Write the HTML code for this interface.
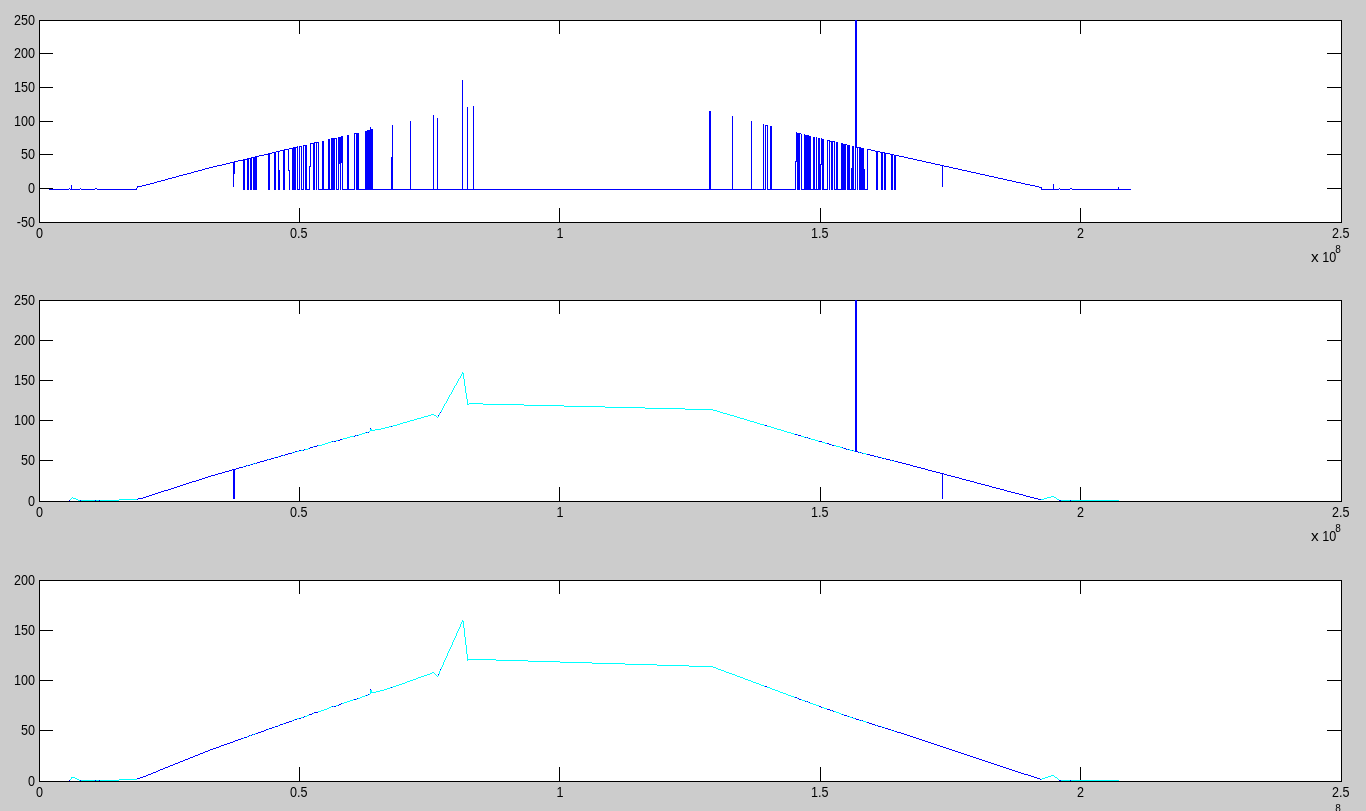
<!DOCTYPE html>
<html><head><meta charset="utf-8"><title>Figure 1</title>
<style>
html,body{margin:0;padding:0;background:#ccc;overflow:hidden}
svg{display:block}
text{font-family:"Liberation Sans",Arial,Helvetica,sans-serif;font-size:14px;fill:#000}
</style></head><body>
<svg width="1366" height="811" viewBox="0 0 1366 811">
<rect width="1366" height="811" fill="#ccc"/>
<rect x="39" y="20" width="1303" height="203" fill="#fff"/>
<rect x="39" y="300" width="1303" height="202" fill="#fff"/>
<rect x="39" y="580" width="1303" height="202" fill="#fff"/>
<path shape-rendering="crispEdges" fill="#000" d="M39 20h1303v1h-1303zM39 222h1303v1h-1303zM39 20h1v203h-1zM1341 20h1v203h-1zM40 53h13v1h-13zM1327 53h14v1h-14zM40 87h13v1h-13zM1327 87h14v1h-14zM40 121h13v1h-13zM1327 121h14v1h-14zM40 154h13v1h-13zM1327 154h14v1h-14zM40 188h13v1h-13zM1327 188h14v1h-14zM299 208h1v14h-1zM299 21h1v13h-1zM559 208h1v14h-1zM559 21h1v13h-1zM820 208h1v14h-1zM820 21h1v13h-1zM1080 208h1v14h-1zM1080 21h1v13h-1zM39 300h1303v1h-1303zM39 501h1303v1h-1303zM39 300h1v202h-1zM1341 300h1v202h-1zM40 340h13v1h-13zM1327 340h14v1h-14zM40 380h13v1h-13zM1327 380h14v1h-14zM40 420h13v1h-13zM1327 420h14v1h-14zM40 460h13v1h-13zM1327 460h14v1h-14zM299 487h1v14h-1zM299 301h1v13h-1zM559 487h1v14h-1zM559 301h1v13h-1zM820 487h1v14h-1zM820 301h1v13h-1zM1080 487h1v14h-1zM1080 301h1v13h-1zM39 580h1303v1h-1303zM39 781h1303v1h-1303zM39 580h1v202h-1zM1341 580h1v202h-1zM40 630h13v1h-13zM1327 630h14v1h-14zM40 680h13v1h-13zM1327 680h14v1h-14zM40 730h13v1h-13zM1327 730h14v1h-14zM299 767h1v14h-1zM299 581h1v13h-1zM559 767h1v14h-1zM559 581h1v13h-1zM820 767h1v14h-1zM820 581h1v13h-1zM1080 767h1v14h-1zM1080 581h1v13h-1z"/>
<path shape-rendering="crispEdges" fill="#00f" d="M49 189h20v1h-20zM70 189h1v1h-1zM72 189h8v1h-8zM81 189h14v1h-14zM97 189h39v1h-39zM298 189h1v1h-1zM302 189h1v1h-1zM307 189h2v1h-2zM319 189h3v1h-3zM324 189h4v1h-4zM330 189h1v1h-1zM337 189h1v1h-1zM343 189h4v1h-4zM349 189h5v1h-5zM359 189h6v1h-6zM373 189h18v1h-18zM393 189h17v1h-17zM411 189h22v1h-22zM434 189h3v1h-3zM438 189h24v1h-24zM463 189h4v1h-4zM468 189h5v1h-5zM474 189h235v1h-235zM711 189h21v1h-21zM733 189h18v1h-18zM752 189h11v1h-11zM764 189h1v1h-1zM768 189h2v1h-2zM772 189h23v1h-23zM802 189h2v1h-2zM811 189h2v1h-2zM815 189h1v1h-1zM817 189h1v1h-1zM824 189h3v1h-3zM835 189h1v1h-1zM838 189h3v1h-3zM850 189h1v1h-1zM854 189h1v1h-1zM865 189h2v1h-2zM1042 189h11v1h-11zM1054 189h5v1h-5zM1060 189h10v1h-10zM1072 189h46v1h-46zM1119 189h12v1h-12zM69 188h1v1h-1zM80 188h1v1h-1zM95 188h2v1h-2zM1059 188h1v1h-1zM1070 188h2v1h-2zM71 185h1v5h-1zM136 188h1v2h-1zM137 186h1v2h-1zM138 186h4v1h-4zM1035 186h4v1h-4zM142 185h4v1h-4zM1030 185h5v1h-5zM146 184h4v1h-4zM1025 184h5v1h-5zM150 183h4v1h-4zM1021 183h4v1h-4zM154 182h3v1h-3zM1016 182h5v1h-5zM157 181h4v1h-4zM1012 181h4v1h-4zM161 180h4v1h-4zM1007 180h5v1h-5zM165 179h3v1h-3zM1003 179h4v1h-4zM168 178h4v1h-4zM998 178h5v1h-5zM172 177h4v1h-4zM994 177h4v1h-4zM176 176h3v1h-3zM989 176h5v1h-5zM179 175h4v1h-4zM985 175h4v1h-4zM183 174h4v1h-4zM980 174h5v1h-5zM187 173h4v1h-4zM976 173h4v1h-4zM191 172h3v1h-3zM971 172h5v1h-5zM194 171h4v1h-4zM967 171h4v1h-4zM198 170h4v1h-4zM962 170h5v1h-5zM202 169h3v1h-3zM958 169h4v1h-4zM205 168h4v1h-4zM953 168h5v1h-5zM209 167h4v1h-4zM949 167h4v1h-4zM213 166h4v1h-4zM944 166h5v1h-5zM217 165h5v1h-5zM940 165h2v1h-2zM943 165h1v1h-1zM222 164h4v1h-4zM935 164h5v1h-5zM226 163h4v1h-4zM931 163h4v1h-4zM230 162h3v1h-3zM926 162h5v1h-5zM233 162h1v25h-1zM234 161h1v13h-1zM235 161h3v1h-3zM922 161h4v1h-4zM238 160h5v1h-5zM917 160h5v1h-5zM243 159h2v31h-2zM245 159h2v1h-2zM913 159h4v1h-4zM247 158h2v32h-2zM250 158h1v32h-1zM249 158h1v1h-1zM908 158h5v1h-5zM251 157h1v33h-1zM253 157h2v33h-2zM391 157h1v33h-1zM252 157h1v1h-1zM904 157h4v1h-4zM255 156h2v34h-2zM257 156h2v1h-2zM899 156h5v1h-5zM259 155h5v1h-5zM896 155h3v1h-3zM264 154h4v1h-4zM890 154h1v1h-1zM893 154h1v1h-1zM268 153h2v37h-2zM885 153h1v37h-1zM270 153h2v1h-2zM886 153h4v1h-4zM272 152h2v1h-2zM880 152h1v1h-1zM883 152h1v1h-1zM274 152h2v38h-2zM881 152h2v38h-2zM884 152h1v38h-1zM276 151h2v1h-2zM279 151h1v1h-1zM875 151h1v1h-1zM878 151h2v1h-2zM278 151h1v39h-1zM876 151h2v39h-2zM279 170h1v20h-1zM289 170h1v20h-1zM280 150h3v1h-3zM871 150h4v1h-4zM283 150h1v40h-1zM284 149h1v41h-1zM867 149h1v41h-1zM285 149h3v1h-3zM868 149h3v1h-3zM288 149h1v22h-1zM289 148h3v1h-3zM292 148h1v42h-1zM861 148h3v42h-3zM293 147h3v43h-3zM857 147h1v43h-1zM859 147h2v43h-2zM296 147h1v1h-1zM858 147h1v1h-1zM297 146h1v44h-1zM299 146h1v44h-1zM301 146h1v44h-1zM852 146h2v44h-2zM300 146h1v1h-1zM303 145h1v45h-1zM305 145h2v45h-2zM847 145h3v45h-3zM304 145h1v1h-1zM309 166h1v24h-1zM310 143h1v24h-1zM311 143h2v1h-2zM313 143h1v47h-1zM841 143h2v47h-2zM314 142h1v48h-1zM316 142h1v48h-1zM318 142h1v48h-1zM836 142h2v48h-2zM315 142h1v1h-1zM317 142h1v1h-1zM322 141h2v49h-2zM831 141h2v49h-2zM834 141h1v49h-1zM328 139h2v51h-2zM822 139h2v51h-2zM331 138h4v52h-4zM336 138h1v52h-1zM818 138h2v52h-2zM335 138h1v1h-1zM338 137h1v53h-1zM340 137h1v53h-1zM813 137h2v53h-2zM816 137h1v53h-1zM339 137h1v27h-1zM341 136h1v27h-1zM342 136h1v54h-1zM809 136h2v54h-2zM347 135h2v55h-2zM805 135h4v55h-4zM354 133h1v57h-1zM356 133h3v57h-3zM797 133h3v57h-3zM355 133h1v1h-1zM800 133h1v1h-1zM365 131h2v59h-2zM367 130h3v60h-3zM370 127h1v63h-1zM371 129h2v61h-2zM392 125h1v65h-1zM765 125h1v65h-1zM767 125h1v65h-1zM410 121h1v69h-1zM751 121h1v69h-1zM433 115h1v75h-1zM437 118h1v72h-1zM462 80h1v110h-1zM467 107h1v83h-1zM473 106h1v84h-1zM709 111h2v79h-2zM732 116h1v74h-1zM763 124h1v66h-1zM766 125h1v1h-1zM770 126h2v64h-2zM795 161h1v29h-1zM796 132h1v30h-1zM801 134h1v56h-1zM804 134h1v56h-1zM820 164h1v26h-1zM821 138h1v27h-1zM827 140h1v50h-1zM829 140h1v50h-1zM828 140h1v1h-1zM830 141h1v1h-1zM833 141h1v1h-1zM843 144h3v46h-3zM846 144h1v1h-1zM851 168h1v22h-1zM855 20h1v170h-1zM856 20h1v128h-1zM864 169h1v21h-1zM891 154h2v36h-2zM894 155h2v35h-2zM942 165h1v22h-1zM1039 187h2v1h-2zM1041 187h1v3h-1zM1118 187h1v3h-1zM1053 184h1v6h-1z"/>
<path shape-rendering="crispEdges" fill="#0ff" d="M70 499h1v1h-1zM76 499h2v1h-2zM119 499h18v1h-18zM1041 499h3v1h-3zM1057 499h2v1h-2zM71 498h1v1h-1zM73 498h3v1h-3zM1044 498h3v1h-3zM1056 498h1v1h-1zM72 497h1v1h-1zM1047 497h4v1h-4zM1054 497h2v1h-2zM78 500h2v1h-2zM81 500h14v1h-14zM96 500h3v1h-3zM100 500h19v1h-19zM1061 500h9v1h-9zM1071 500h48v1h-48zM243 466h1v1h-1zM247 465h1v1h-1zM250 464h1v1h-1zM253 463h1v1h-1zM255 463h1v1h-1zM268 459h1v1h-1zM274 457h1v1h-1zM881 457h1v1h-1zM278 456h1v1h-1zM876 456h1v1h-1zM283 455h1v1h-1zM292 452h1v1h-1zM294 452h1v1h-1zM859 452h1v1h-1zM861 452h1v1h-1zM297 451h2v1h-2zM854 451h1v1h-1zM301 450h2v1h-2zM850 450h2v1h-2zM853 450h1v1h-1zM305 449h3v1h-3zM847 449h1v1h-1zM849 449h1v1h-1zM308 448h1v1h-1zM843 448h1v1h-1zM313 446h1v1h-1zM836 446h4v1h-4zM318 445h4v1h-4zM834 445h2v1h-2zM322 444h3v1h-3zM831 444h1v1h-1zM325 443h3v1h-3zM825 443h2v1h-2zM328 442h3v1h-3zM822 442h3v1h-3zM331 441h1v1h-1zM333 441h1v1h-1zM818 441h1v1h-1zM336 440h2v1h-2zM815 440h3v1h-3zM342 439h1v1h-1zM811 439h4v1h-4zM343 438h4v1h-4zM808 438h1v1h-1zM810 438h1v1h-1zM347 437h3v1h-3zM804 437h1v1h-1zM806 437h1v1h-1zM350 436h4v1h-4zM801 436h3v1h-3zM356 435h1v1h-1zM358 435h1v1h-1zM359 434h3v1h-3zM794 434h1v1h-1zM797 434h1v1h-1zM362 433h3v1h-3zM791 433h3v1h-3zM365 432h1v1h-1zM367 432h1v1h-1zM787 432h4v1h-4zM369 431h1v1h-1zM784 431h3v1h-3zM370 429h2v2h-2zM372 430h3v1h-3zM781 430h3v1h-3zM375 429h6v1h-6zM777 429h4v1h-4zM381 428h4v1h-4zM774 428h3v1h-3zM385 427h4v1h-4zM771 427h3v1h-3zM389 426h2v1h-2zM392 426h1v1h-1zM767 426h4v1h-4zM393 425h4v1h-4zM764 425h1v1h-1zM397 424h3v1h-3zM760 424h4v1h-4zM400 423h3v1h-3zM757 423h3v1h-3zM403 422h4v1h-4zM754 422h3v1h-3zM407 421h3v1h-3zM750 421h4v1h-4zM410 420h4v1h-4zM747 420h3v1h-3zM414 419h3v1h-3zM744 419h3v1h-3zM417 418h4v1h-4zM740 418h4v1h-4zM421 417h3v1h-3zM437 417h1v1h-1zM737 417h3v1h-3zM424 416h4v1h-4zM436 416h1v1h-1zM438 416h1v1h-1zM734 416h3v1h-3zM428 415h3v1h-3zM434 415h2v1h-2zM730 415h4v1h-4zM431 414h3v1h-3zM727 414h3v1h-3zM439 413h1v2h-1zM441 410h1v2h-1zM442 408h1v2h-1zM443 406h1v2h-1zM444 404h1v2h-1zM445 403h1v1h-1zM469 403h14v1h-14zM446 401h1v2h-1zM447 399h1v2h-1zM448 397h1v2h-1zM449 395h1v2h-1zM450 394h1v1h-1zM451 392h1v2h-1zM452 390h1v2h-1zM453 388h1v2h-1zM454 386h1v2h-1zM455 385h1v1h-1zM456 383h1v2h-1zM457 381h1v2h-1zM458 379h1v2h-1zM459 378h1v1h-1zM460 376h1v2h-1zM461 374h1v2h-1zM462 372h1v2h-1zM463 373h1v6h-1zM464 379h1v7h-1zM465 386h1v7h-1zM466 393h1v6h-1zM467 399h1v6h-1zM468 404h1v1h-1zM483 404h41v1h-41zM524 405h40v1h-40zM564 406h41v1h-41zM605 407h40v1h-40zM645 408h40v1h-40zM685 409h28v1h-28zM713 410h4v1h-4zM717 411h3v1h-3zM720 412h3v1h-3zM723 413h4v1h-4zM840 447h2v1h-2zM863 453h3v1h-3zM866 454h1v1h-1zM884 458h1v1h-1zM891 460h1v1h-1zM894 461h1v1h-1zM1051 496h3v1h-3z"/>
<path shape-rendering="crispEdges" fill="#00f" d="M69 500h1v1h-1zM80 500h1v1h-1zM95 500h1v1h-1zM99 500h1v1h-1zM1059 500h2v1h-2zM1070 500h1v1h-1zM137 499h1v1h-1zM1038 499h3v1h-3zM138 498h5v1h-5zM1034 498h4v1h-4zM143 497h3v1h-3zM1030 497h4v1h-4zM146 496h3v1h-3zM1026 496h4v1h-4zM149 495h3v1h-3zM1023 495h3v1h-3zM152 494h3v1h-3zM1019 494h4v1h-4zM155 493h3v1h-3zM1015 493h4v1h-4zM158 492h3v1h-3zM1011 492h4v1h-4zM161 491h3v1h-3zM1007 491h4v1h-4zM164 490h4v1h-4zM1004 490h3v1h-3zM168 489h3v1h-3zM1000 489h4v1h-4zM171 488h3v1h-3zM996 488h4v1h-4zM174 487h3v1h-3zM992 487h4v1h-4zM177 486h3v1h-3zM989 486h3v1h-3zM180 485h3v1h-3zM985 485h4v1h-4zM183 484h3v1h-3zM981 484h4v1h-4zM186 483h3v1h-3zM977 483h4v1h-4zM189 482h3v1h-3zM974 482h3v1h-3zM192 481h4v1h-4zM970 481h4v1h-4zM196 480h3v1h-3zM966 480h4v1h-4zM199 479h3v1h-3zM962 479h4v1h-4zM202 478h3v1h-3zM959 478h3v1h-3zM205 477h3v1h-3zM955 477h4v1h-4zM208 476h3v1h-3zM951 476h4v1h-4zM211 475h4v1h-4zM947 475h4v1h-4zM215 474h3v1h-3zM944 474h3v1h-3zM218 473h4v1h-4zM940 473h2v1h-2zM943 473h1v1h-1zM222 472h3v1h-3zM936 472h4v1h-4zM225 471h4v1h-4zM932 471h4v1h-4zM229 470h3v1h-3zM928 470h4v1h-4zM232 469h1v1h-1zM235 469h1v1h-1zM925 469h3v1h-3zM233 469h2v30h-2zM236 468h3v1h-3zM921 468h4v1h-4zM239 467h4v1h-4zM917 467h4v1h-4zM244 466h2v1h-2zM913 466h4v1h-4zM246 465h1v1h-1zM248 465h2v1h-2zM910 465h3v1h-3zM251 464h2v1h-2zM906 464h4v1h-4zM254 463h1v1h-1zM256 463h1v1h-1zM902 463h4v1h-4zM257 462h3v1h-3zM898 462h4v1h-4zM260 461h4v1h-4zM895 461h3v1h-3zM264 460h3v1h-3zM890 460h1v1h-1zM892 460h2v1h-2zM267 459h1v1h-1zM269 459h2v1h-2zM886 459h4v1h-4zM271 458h3v1h-3zM882 458h2v1h-2zM885 458h1v1h-1zM275 457h3v1h-3zM878 457h3v1h-3zM279 456h2v1h-2zM874 456h2v1h-2zM877 456h1v1h-1zM281 455h2v1h-2zM284 455h1v1h-1zM870 455h4v1h-4zM285 454h3v1h-3zM867 454h3v1h-3zM288 453h4v1h-4zM862 453h1v1h-1zM293 452h1v1h-1zM858 452h1v1h-1zM860 452h1v1h-1zM295 451h2v1h-2zM857 451h1v1h-1zM299 450h2v1h-2zM303 450h1v1h-1zM852 450h1v1h-1zM304 449h1v1h-1zM846 449h1v1h-1zM848 449h1v1h-1zM309 448h1v1h-1zM844 448h2v1h-2zM310 447h3v1h-3zM842 447h1v1h-1zM314 446h3v1h-3zM317 445h1v1h-1zM832 445h2v1h-2zM332 441h1v1h-1zM334 441h2v1h-2zM819 441h3v1h-3zM338 440h2v1h-2zM340 439h2v1h-2zM354 436h1v1h-1zM355 435h1v1h-1zM357 435h1v1h-1zM798 435h3v1h-3zM366 432h1v1h-1zM368 432h1v1h-1zM370 428h1v1h-1zM391 426h1v1h-1zM438 415h1v1h-1zM440 412h1v1h-1zM765 425h2v1h-2zM795 434h2v1h-2zM805 437h1v1h-1zM807 437h1v1h-1zM809 438h1v1h-1zM827 443h2v1h-2zM829 444h2v1h-2zM855 300h2v152h-2zM942 473h1v26h-1z"/>
<path shape-rendering="crispEdges" fill="#0ff" d="M70 779h1v1h-1zM77 779h2v1h-2zM119 779h18v1h-18zM1041 779h1v1h-1zM1058 779h1v1h-1zM71 777h1v2h-1zM72 777h3v1h-3zM1045 777h3v1h-3zM1055 777h2v1h-2zM75 778h2v1h-2zM1042 778h3v1h-3zM1057 778h1v1h-1zM79 780h1v1h-1zM81 780h14v1h-14zM96 780h3v1h-3zM100 780h19v1h-19zM1061 780h9v1h-9zM1071 780h48v1h-48zM243 738h1v1h-1zM247 736h1v1h-1zM250 735h1v1h-1zM253 734h1v1h-1zM255 733h1v1h-1zM268 729h1v1h-1zM274 727h1v1h-1zM884 727h1v1h-1zM278 725h1v1h-1zM876 725h1v1h-1zM283 723h1v1h-1zM292 720h1v1h-1zM859 720h1v1h-1zM861 720h1v1h-1zM294 719h1v1h-1zM297 718h2v1h-2zM853 718h2v1h-2zM301 717h2v1h-2zM850 717h2v1h-2zM305 716h2v1h-2zM847 716h1v1h-1zM849 716h1v1h-1zM307 715h2v1h-2zM313 713h1v1h-1zM839 713h2v1h-2zM318 711h3v1h-3zM834 711h2v1h-2zM321 710h3v1h-3zM831 710h1v1h-1zM324 709h3v1h-3zM327 708h2v1h-2zM824 708h3v1h-3zM329 707h2v1h-2zM822 707h2v1h-2zM331 706h1v1h-1zM333 706h1v1h-1zM336 705h2v1h-2zM816 705h3v1h-3zM342 703h2v1h-2zM810 703h3v1h-3zM344 702h3v1h-3zM808 702h1v1h-1zM347 701h3v1h-3zM806 701h1v1h-1zM350 700h3v1h-3zM802 700h3v1h-3zM353 699h1v1h-1zM356 699h1v1h-1zM801 699h1v1h-1zM358 698h2v1h-2zM797 698h1v1h-1zM360 697h2v1h-2zM794 697h1v1h-1zM362 696h3v1h-3zM791 696h3v1h-3zM365 695h1v1h-1zM367 695h1v1h-1zM788 695h3v1h-3zM369 694h1v1h-1zM786 694h2v1h-2zM370 690h1v4h-1zM371 690h1v3h-1zM372 692h4v1h-4zM780 692h3v1h-3zM376 691h4v1h-4zM778 691h2v1h-2zM380 690h4v1h-4zM775 690h3v1h-3zM384 689h3v1h-3zM772 689h3v1h-3zM387 688h3v1h-3zM770 688h2v1h-2zM390 687h1v1h-1zM392 687h1v1h-1zM767 687h3v1h-3zM393 686h3v1h-3zM764 686h1v1h-1zM396 685h3v1h-3zM761 685h3v1h-3zM399 684h3v1h-3zM759 684h2v1h-2zM402 683h3v1h-3zM756 683h3v1h-3zM405 682h2v1h-2zM753 682h3v1h-3zM407 681h3v1h-3zM751 681h2v1h-2zM410 680h3v1h-3zM748 680h3v1h-3zM413 679h3v1h-3zM745 679h3v1h-3zM416 678h2v1h-2zM743 678h2v1h-2zM418 677h3v1h-3zM740 677h3v1h-3zM421 676h3v1h-3zM437 676h1v1h-1zM737 676h3v1h-3zM424 675h3v1h-3zM436 675h1v1h-1zM438 675h1v1h-1zM735 675h2v1h-2zM427 674h3v1h-3zM435 674h1v1h-1zM732 674h3v1h-3zM430 673h2v1h-2zM434 673h1v1h-1zM729 673h3v1h-3zM432 672h2v1h-2zM726 672h3v1h-3zM439 671h1v3h-1zM440 670h1v1h-1zM721 670h3v1h-3zM441 667h1v2h-1zM442 665h1v2h-1zM443 662h1v3h-1zM444 660h1v2h-1zM445 658h1v2h-1zM446 656h1v2h-1zM447 653h1v3h-1zM448 651h1v2h-1zM449 649h1v2h-1zM450 647h1v2h-1zM451 645h1v2h-1zM452 642h1v3h-1zM453 640h1v2h-1zM454 638h1v2h-1zM455 636h1v2h-1zM456 633h1v3h-1zM457 631h1v2h-1zM458 629h1v2h-1zM459 627h1v2h-1zM460 624h1v3h-1zM461 622h1v2h-1zM462 620h1v2h-1zM463 621h1v7h-1zM464 628h1v9h-1zM465 637h1v8h-1zM466 645h1v9h-1zM467 654h1v7h-1zM468 659h28v1h-28zM496 660h32v1h-32zM528 661h32v1h-32zM560 662h32v1h-32zM592 663h33v1h-33zM625 664h32v1h-32zM657 665h32v1h-32zM689 666h24v1h-24zM713 667h3v1h-3zM716 668h2v1h-2zM718 669h3v1h-3zM724 671h2v1h-2zM783 693h3v1h-3zM813 704h3v1h-3zM836 712h3v1h-3zM841 714h1v1h-1zM843 714h1v1h-1zM863 721h3v1h-3zM866 722h1v1h-1zM881 726h1v1h-1zM891 730h1v1h-1zM894 731h1v1h-1zM1048 776h3v1h-3zM1054 776h1v1h-1zM1051 775h3v1h-3z"/>
<path shape-rendering="crispEdges" fill="#00f" d="M69 780h1v1h-1zM80 780h1v1h-1zM95 780h1v1h-1zM99 780h1v1h-1zM1059 780h2v1h-2zM1070 780h1v1h-1zM137 778h3v1h-3zM1037 778h3v1h-3zM140 777h3v1h-3zM1034 777h3v1h-3zM143 776h3v1h-3zM1031 776h3v1h-3zM146 775h2v1h-2zM1028 775h3v1h-3zM148 774h3v1h-3zM1024 774h4v1h-4zM151 773h2v1h-2zM1021 773h3v1h-3zM153 772h3v1h-3zM1018 772h3v1h-3zM156 771h2v1h-2zM1015 771h3v1h-3zM158 770h2v1h-2zM1012 770h3v1h-3zM160 769h3v1h-3zM1009 769h3v1h-3zM163 768h2v1h-2zM1006 768h3v1h-3zM165 767h3v1h-3zM1003 767h3v1h-3zM168 766h2v1h-2zM1000 766h3v1h-3zM170 765h3v1h-3zM997 765h3v1h-3zM173 764h2v1h-2zM994 764h3v1h-3zM175 763h3v1h-3zM991 763h3v1h-3zM178 762h2v1h-2zM988 762h3v1h-3zM180 761h3v1h-3zM985 761h3v1h-3zM183 760h2v1h-2zM982 760h3v1h-3zM185 759h3v1h-3zM979 759h3v1h-3zM188 758h2v1h-2zM976 758h3v1h-3zM190 757h3v1h-3zM973 757h3v1h-3zM193 756h2v1h-2zM970 756h3v1h-3zM195 755h3v1h-3zM967 755h3v1h-3zM198 754h2v1h-2zM964 754h3v1h-3zM200 753h3v1h-3zM961 753h3v1h-3zM203 752h2v1h-2zM958 752h3v1h-3zM205 751h3v1h-3zM955 751h3v1h-3zM208 750h2v1h-2zM952 750h3v1h-3zM210 749h3v1h-3zM949 749h3v1h-3zM213 748h3v1h-3zM946 748h3v1h-3zM216 747h3v1h-3zM943 747h3v1h-3zM219 746h2v1h-2zM940 746h3v1h-3zM221 745h3v1h-3zM937 745h3v1h-3zM224 744h3v1h-3zM934 744h3v1h-3zM227 743h3v1h-3zM931 743h3v1h-3zM230 742h3v1h-3zM928 742h3v1h-3zM233 741h2v1h-2zM925 741h3v1h-3zM235 740h3v1h-3zM922 740h3v1h-3zM238 739h3v1h-3zM919 739h3v1h-3zM241 738h2v1h-2zM916 738h3v1h-3zM244 737h3v1h-3zM913 737h3v1h-3zM248 736h1v1h-1zM910 736h3v1h-3zM249 735h1v1h-1zM251 735h1v1h-1zM907 735h3v1h-3zM252 734h1v1h-1zM254 734h1v1h-1zM904 734h3v1h-3zM256 733h2v1h-2zM901 733h3v1h-3zM258 732h3v1h-3zM897 732h4v1h-4zM261 731h3v1h-3zM895 731h2v1h-2zM264 730h2v1h-2zM892 730h2v1h-2zM266 729h2v1h-2zM888 729h3v1h-3zM269 728h3v1h-3zM885 728h3v1h-3zM272 727h2v1h-2zM882 727h2v1h-2zM275 726h3v1h-3zM878 726h3v1h-3zM279 725h1v1h-1zM875 725h1v1h-1zM877 725h1v1h-1zM280 724h3v1h-3zM872 724h3v1h-3zM284 723h2v1h-2zM869 723h3v1h-3zM286 722h3v1h-3zM867 722h2v1h-2zM289 721h3v1h-3zM293 720h1v1h-1zM860 720h1v1h-1zM862 720h1v1h-1zM295 719h2v1h-2zM856 719h3v1h-3zM299 718h2v1h-2zM855 718h1v1h-1zM303 717h1v1h-1zM852 717h1v1h-1zM304 716h1v1h-1zM848 716h1v1h-1zM309 714h3v1h-3zM842 714h1v1h-1zM312 713h1v1h-1zM314 712h4v1h-4zM332 706h1v1h-1zM334 706h2v1h-2zM819 706h2v1h-2zM338 705h1v1h-1zM339 704h2v1h-2zM341 703h1v1h-1zM354 699h2v1h-2zM799 699h2v1h-2zM357 698h1v1h-1zM798 698h1v1h-1zM366 695h1v1h-1zM368 694h1v1h-1zM370 689h1v1h-1zM391 687h1v1h-1zM438 674h1v1h-1zM440 669h1v1h-1zM765 686h2v1h-2zM795 697h2v1h-2zM805 701h1v1h-1zM807 701h1v1h-1zM809 702h1v1h-1zM821 707h1v1h-1zM827 709h3v1h-3zM830 710h1v1h-1zM832 710h1v1h-1zM833 711h1v1h-1zM844 715h3v1h-3zM1040 779h1v1h-1z"/>
<g>
<text transform="translate(35.0 25.1) scale(0.9 1)" text-anchor="end">250</text>
<text transform="translate(35.0 58.1) scale(0.9 1)" text-anchor="end">200</text>
<text transform="translate(35.0 92.2) scale(0.9 1)" text-anchor="end">150</text>
<text transform="translate(35.0 126.2) scale(0.9 1)" text-anchor="end">100</text>
<text transform="translate(35.0 159.2) scale(0.9 1)" text-anchor="end">50</text>
<text transform="translate(35.0 193.2) scale(0.9 1)" text-anchor="end">0</text>
<text transform="translate(35.0 227.2) scale(0.9 1)" text-anchor="end">-50</text>
<text transform="translate(39.4 238.0) scale(0.9 1)" text-anchor="middle">0</text>
<text transform="translate(298.8 238.0) scale(0.9 1)" text-anchor="middle">0.5</text>
<text transform="translate(560.1 238.0) scale(0.9 1)" text-anchor="middle">1</text>
<text transform="translate(819.8 238.0) scale(0.9 1)" text-anchor="middle">1.5</text>
<text transform="translate(1080.4 238.0) scale(0.9 1)" text-anchor="middle">2</text>
<text transform="translate(1340.8 238.0) scale(0.9 1)" text-anchor="middle">2.5</text>
<text transform="translate(1310.9 262) scale(1.1 1)">x</text>
<text transform="translate(1322.3 262) scale(0.9 1)">10</text>
<text transform="translate(1335.3 252.8)" style="font-size:10px">8</text>
<text transform="translate(35.0 305.1) scale(0.9 1)" text-anchor="end">250</text>
<text transform="translate(35.0 345.1) scale(0.9 1)" text-anchor="end">200</text>
<text transform="translate(35.0 385.1) scale(0.9 1)" text-anchor="end">150</text>
<text transform="translate(35.0 425.1) scale(0.9 1)" text-anchor="end">100</text>
<text transform="translate(35.0 465.1) scale(0.9 1)" text-anchor="end">50</text>
<text transform="translate(35.0 506.1) scale(0.9 1)" text-anchor="end">0</text>
<text transform="translate(39.4 517.0) scale(0.9 1)" text-anchor="middle">0</text>
<text transform="translate(298.8 517.0) scale(0.9 1)" text-anchor="middle">0.5</text>
<text transform="translate(560.1 517.0) scale(0.9 1)" text-anchor="middle">1</text>
<text transform="translate(819.8 517.0) scale(0.9 1)" text-anchor="middle">1.5</text>
<text transform="translate(1080.4 517.0) scale(0.9 1)" text-anchor="middle">2</text>
<text transform="translate(1340.8 517.0) scale(0.9 1)" text-anchor="middle">2.5</text>
<text transform="translate(1310.9 541) scale(1.1 1)">x</text>
<text transform="translate(1322.3 541) scale(0.9 1)">10</text>
<text transform="translate(1335.3 531.8)" style="font-size:10px">8</text>
<text transform="translate(35.0 585.1) scale(0.9 1)" text-anchor="end">200</text>
<text transform="translate(35.0 635.1) scale(0.9 1)" text-anchor="end">150</text>
<text transform="translate(35.0 685.1) scale(0.9 1)" text-anchor="end">100</text>
<text transform="translate(35.0 735.1) scale(0.9 1)" text-anchor="end">50</text>
<text transform="translate(35.0 786.1) scale(0.9 1)" text-anchor="end">0</text>
<text transform="translate(39.4 797.0) scale(0.9 1)" text-anchor="middle">0</text>
<text transform="translate(298.8 797.0) scale(0.9 1)" text-anchor="middle">0.5</text>
<text transform="translate(560.1 797.0) scale(0.9 1)" text-anchor="middle">1</text>
<text transform="translate(819.8 797.0) scale(0.9 1)" text-anchor="middle">1.5</text>
<text transform="translate(1080.4 797.0) scale(0.9 1)" text-anchor="middle">2</text>
<text transform="translate(1340.8 797.0) scale(0.9 1)" text-anchor="middle">2.5</text>
<text transform="translate(1310.9 821) scale(1.1 1)">x</text>
<text transform="translate(1322.3 821) scale(0.9 1)">10</text>
<text transform="translate(1335.3 811.8)" style="font-size:10px">8</text>
</g>
</svg>
</body></html>
